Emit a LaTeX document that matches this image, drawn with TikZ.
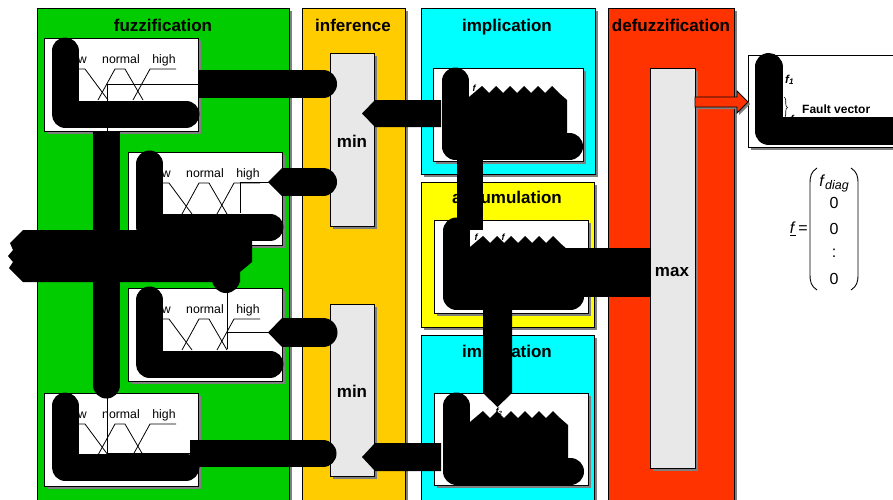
\documentclass[tikz,border=0pt]{standalone}
\usepackage{fontspec}
\setmainfont{Liberation Sans}
\usetikzlibrary{shadows,decorations.pathreplacing}
\definecolor{fgreen}{HTML}{00CC00}
\definecolor{forange}{HTML}{FFCC00}
\definecolor{fcyan}{HTML}{00FFFF}
\definecolor{fyellow}{HTML}{FFFF00}
\definecolor{fred}{HTML}{FF3300}
\definecolor{fgray}{HTML}{E8E8E8}
\definecolor{shadowgray}{HTML}{808080}
\newcommand\mfplot[4]{%
\begin{scope}[shift={(#2,#3)}]
 \node[plotbox] (#1) at (0,0) {};
 \draw[mf] (18,31) -- (41,31) -- (64,62);
 \draw[mf] (54,62) -- (71,31) -- (81,31) -- (99,62);
 \draw[mf] (89,62) -- (106,31) -- (132,31);
 \node[lab, anchor=base east] (#1low) at (43,25) {low};
 \node[lab] (#1nor) at (77,25) {normal};
 \node[lab] (#1hig) at (120,25) {high};
 #4
\end{scope}}
\newcommand\blobat[3]{%
\begin{scope}[shift={(#2,#3)}]
 \draw[blk] (22.5,13) -- (22.5,78.5) -- (136.5,78.5);
 \fill (36,29) -- (49,18) -- (56,25) -- (63,18) -- (70,25) -- (77,18) -- (84,25) -- (91,18) -- (98,25) -- (105,18) -- (112,25) -- (119,18) -- (126,25) -- (134,32) -- (134,79) -- (36,79) -- cycle;
 \coordinate (#1) at (22.5,45);
\end{scope}}
\begin{document}
\begin{tikzpicture}[x=1pt,y=-1pt,
  panel/.style={draw=black, line width=0.8pt, inner sep=0pt, outer sep=0pt, anchor=north west,
     drop shadow={shadow xshift=3pt, shadow yshift=-3pt, fill=shadowgray, opacity=1}},
  opbox/.style={panel, fill=fgray},
  wbox/.style={panel, fill=white},
  plotbox/.style={wbox, minimum width=154pt, minimum height=93pt},
  ttl/.style={font=\fontsize{17}{20}\selectfont\bfseries, anchor=base, inner sep=0pt},
  lab/.style={font=\fontsize{12.3}{14}\selectfont, anchor=base, inner sep=0pt},
  mf/.style={draw=black, line width=0.8pt},
  blk/.style={draw=black, line width=27pt, line cap=round, line join=round},
  bar/.style={draw=black, line cap=butt},
  entry/.style={font=\fontsize{16}{18}\selectfont, inner sep=0pt}]
\useasboundingbox (0,0) rectangle (893,499);
\clip (0,0) rectangle (893,499);
\fill[white] (0,0) rectangle (893,499);
% panels
\node[panel, fill=fgreen, minimum width=252pt, minimum height=520pt] (fuzz) at (37,8) {};
\node[panel, fill=forange, minimum width=103pt, minimum height=520pt] (infer) at (302,8) {};
\node[panel, fill=fcyan, minimum width=174pt, minimum height=166pt] (impA) at (421,8) {};
\node[panel, fill=fyellow, minimum width=173pt, minimum height=145pt] (accu) at (421,182) {};
\node[panel, fill=fcyan, minimum width=173pt, minimum height=200pt] (impB) at (421,335) {};
\node[panel, fill=fred, minimum width=126pt, minimum height=520pt] (defuz) at (608,8) {};
% titles
\node[ttl] (tfuzz) at (163,31) {fuzzification};
\node[ttl] (tinf) at (353,31) {inference};
\node[ttl] (timpA) at (507,31) {implication};
\node[ttl] (tacc) at (507,203) {accumulation};
\node[ttl] (timpB) at (507,357) {implication};
\node[ttl] (tdef) at (671,31) {defuzzification};
% operator boxes
\node[opbox, minimum width=44pt, minimum height=173pt] (minA) at (330,53) {};
\node[opbox, minimum width=44pt, minimum height=172pt] (minB) at (330,304) {};
\node[opbox, minimum width=45pt, minimum height=400pt] (max) at (650,68) {};
\node[ttl] (tminA) at (352,147) {min};
\node[ttl] (tminB) at (352,397) {min};
\node[ttl] (tmax) at (672,276) {max};
% fuzzification plots
\mfplot{pA}{44}{38}{\draw[mf] (63,46) -- (154,46); \draw[mf] (63,46) -- (63,93);
  \draw[blk] (21,13) -- (21,76) -- (142,76);}
\mfplot{pB}{128}{152}{\draw[mf] (112,30) -- (154,30); \draw[mf] (112,30) -- (112,61);
  \draw[blk] (21.5,12) -- (21.5,75) -- (142,75);}
\mfplot{pC}{128}{288}{\draw[mf] (99,0) -- (99,61); \draw[mf] (99,44) -- (154,44);
  \draw[blk] (21.5,12) -- (21.5,76) -- (142,76);}
\mfplot{pD}{44}{393}{\draw[mf] (63,0) -- (63,60); \draw[mf] (63,60) -- (154,60);
  \draw[blk] (21,13) -- (21,74) -- (142,74);}
% implication / accumulation plots
\node[wbox, minimum width=150pt, minimum height=93pt] (gA) at (433,68) {};
\node[wbox, minimum width=154pt, minimum height=93pt] (gB) at (434,220) {};
\node[wbox, minimum width=154pt, minimum height=92pt] (gC) at (434,393) {};
\node[font=\fontsize{9}{10}\selectfont\bfseries\itshape, inner sep=0pt] (fa) at (474,88) {f};
\node[font=\fontsize{9}{10}\selectfont\bfseries\itshape, inner sep=0pt] (fb) at (476,237) {f};
\node[font=\fontsize{9}{10}\selectfont\bfseries\itshape, inner sep=0pt] (fc) at (503,237) {f};
\node[font=\fontsize{9}{10}\selectfont\bfseries\itshape, inner sep=0pt] (fd) at (499,412) {f\textsubscript{2}};
\blobat{bA}{433}{68}
\blobat{bB}{434}{218}
\blobat{bC}{434}{393}
% output box
\node[wbox, minimum width=160pt, minimum height=92pt] (out) at (748,55) {};
\node[font=\fontsize{11.5}{13}\selectfont\bfseries\itshape, anchor=base west, inner sep=0pt] (fone) at (785,83) {f\textsubscript{1}};
\draw[decorate, decoration={brace, amplitude=3.5pt}, line width=0.6pt] (784,97) -- (784,118);
\node[font=\fontsize{12}{14}\selectfont\bfseries, anchor=base west, inner sep=0pt] (fv) at (802,113) {Fault vector};
\node[font=\fontsize{10}{11}\selectfont\bfseries\itshape, inner sep=0pt] (fn) at (792,119) {f};
\draw[blk, line width=28pt] (768.5,67) -- (768.5,131) -- (905,131);
% connectors
\coordinate (c1a) at (198,84);  \coordinate (c1b) at (323,84);
\draw[bar, line width=28pt] (c1a) -- (c1b); \fill (c1b) circle[radius=14];
\coordinate (c2a) at (282,182); \coordinate (c2b) at (323,182);
\draw[bar, line width=28pt] (c2a) -- (c2b); \fill (c2b) circle[radius=14];
\fill (282,168) -- (268,182) -- (282,196) -- cycle;
\coordinate (c3a) at (282,332.5); \coordinate (c3b) at (323,332.5);
\draw[bar, line width=29pt] (c3a) -- (c3b); \fill (c3b) circle[radius=14.5];
\fill (282,318) -- (268,332.5) -- (282,347) -- cycle;
\coordinate (c4a) at (190,453.5); \coordinate (c4b) at (323,453.5);
\draw[bar, line width=27pt] (c4a) -- (c4b); \fill (c4b) circle[radius=13.5];
% implication -> min
\fill (441,100) -- (375,100) -- (362,113.5) -- (375,127) -- (441,127) -- cycle;
\fill (441,443) -- (375,443) -- (362,457) -- (375,471) -- (441,471) -- cycle;
% implication -> accumulation -> implication
\fill (457,155) rectangle (483,230);
\fill (483,300) -- (512,300) -- (512,393) -- (497.5,407) -- (483,393) -- cycle;
% accumulation -> max
\fill (468,248) rectangle (650,297);
% fuzzification input bars
\coordinate (v1) at (106.5,131); \coordinate (v2) at (106.5,385);
\draw[bar, line width=27pt] (v1) -- (v2); \fill (v2) circle[radius=13.5];
\fill (23,230) -- (245,230) -- (252,240) -- (252,262) -- (240,272) -- (240,282) -- (23,282)
  -- (9,268) -- (13,262) -- (8,256) -- (13,250) -- (10,243) -- cycle;
\draw[blk, line width=28pt] (226,268) -- (226,279);
% max -> output
\fill[shadowgray] (697,99) -- (739,99) -- (739,93) -- (750,104) -- (739,115) -- (739,109) -- (697,109) -- cycle;
\filldraw[fill=fred, draw=black, line width=0.8pt] (695,97) -- (737,97) -- (737,91) -- (748,102) -- (737,113) -- (737,107) -- (695,107) -- cycle;
% fault vector formula
\node[entry, anchor=east] (feq) at (808,229) {\underline{\textit{f}}\,=};
\draw[line width=0.9pt] (817,168) .. controls (811,172) and (810,176) .. (810,184) -- (810,274) .. controls (810,282) and (811,286) .. (817,290);
\draw[line width=0.9pt] (851,168) .. controls (857,172) and (858,176) .. (858,184) -- (858,274) .. controls (858,282) and (857,286) .. (851,290);
\node[entry, anchor=base] (e1) at (834,186) {\textit{f}\raisebox{-3pt}{\fontsize{12.5}{14}\selectfont\textit{diag}}};
\node[entry] (e2) at (834,203) {0};
\node[entry] (e3) at (834,229) {0};
\node[entry] (e4) at (834,253) {:};
\node[entry] (e5) at (834,279) {0};
\end{tikzpicture}
\end{document}
